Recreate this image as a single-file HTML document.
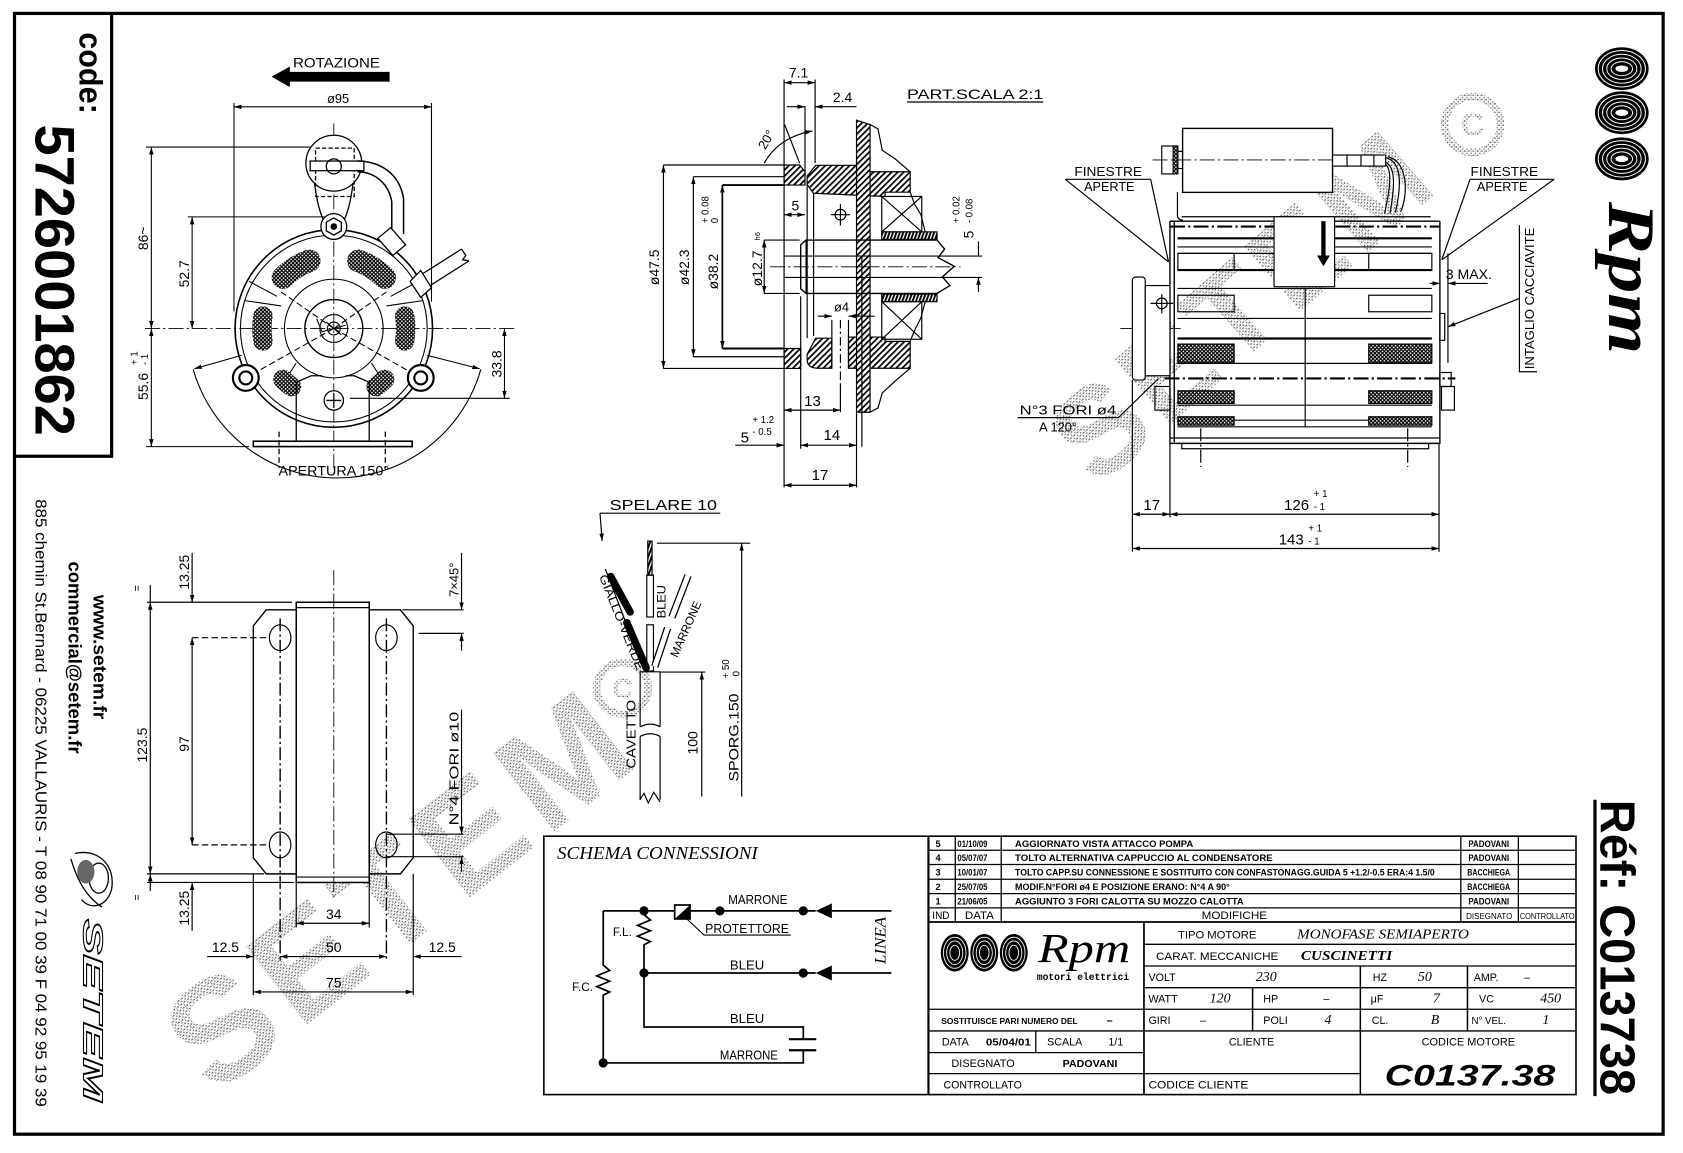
<!DOCTYPE html>
<html><head><meta charset="utf-8">
<style>
html,body{margin:0;padding:0;background:#fff;width:1683px;height:1153px;overflow:hidden}
svg{display:block}
</style></head><body>
<svg xmlns="http://www.w3.org/2000/svg" width="1683" height="1153" viewBox="0 0 1568 1074" preserveAspectRatio="none" font-family="'Liberation Sans', sans-serif">
<defs>
<marker id="a" viewBox="0 0 10 6" refX="10" refY="3" markerWidth="7" markerHeight="4.2" markerUnits="userSpaceOnUse" orient="auto-start-reverse"><path d="M0,0L10,3L0,6z" fill="#000"/></marker>
<pattern id="xh" width="3.5" height="3.5" patternUnits="userSpaceOnUse"><rect width="3.5" height="3.5" fill="#fff"/><path d="M0,0L3.5,3.5M3.5,0L0,3.5" stroke="#000" stroke-width="1.1"/></pattern>
<pattern id="ht" width="4" height="4" patternUnits="userSpaceOnUse" patternTransform="rotate(45)"><rect width="4" height="4" fill="#fff"/><rect width="1.6" height="4" fill="#000"/></pattern>
<pattern id="th" width="3" height="6" patternUnits="userSpaceOnUse" patternTransform="rotate(20)"><rect width="3" height="6" fill="#fff"/><rect width="1.8" height="6" fill="#000"/></pattern>
<pattern id="st" width="4" height="4" patternUnits="userSpaceOnUse"><rect x="0" y="0" width="1.4" height="1.4" fill="#666"/><rect x="2" y="2.2" width="1.3" height="1.3" fill="#777"/><rect x="2.6" y="0.4" width="0.9" height="0.9" fill="#888"/></pattern>
</defs>
<rect width="1568" height="1074" fill="#fff"/>

<!-- WATERMARKS -->
<g fill="url(#st)" font-weight="bold">
<text transform="translate(200,1022) rotate(-38)" font-size="135" letter-spacing="10">SETEM</text>
<text transform="translate(1022,455) rotate(-41)" font-size="116" letter-spacing="6">SETEM</text>
</g>
<g fill="none" stroke="url(#st)" stroke-width="7">
<circle cx="580" cy="641" r="24"/>
<circle cx="1372" cy="116" r="26"/>
</g>
<g fill="url(#st)" font-weight="bold" text-anchor="middle">
<text x="580" y="650" font-size="26">C</text>
<text x="1372" y="126" font-size="30">C</text>
</g>

<!-- BORDER & CODE BOX -->
<g fill="none" stroke="#000" stroke-width="3">
<rect x="13.5" y="12.5" width="1536" height="1044"/>
<path d="M104,12V425H13"/>
<path d="M1486,745V1021"/>
</g>
<g font-weight="bold" fill="#000">
<text transform="translate(74,30) rotate(90)" font-size="30" textLength="76" lengthAdjust="spacingAndGlyphs">code:</text>
<text transform="translate(33,116) rotate(90)" font-size="52" textLength="290" lengthAdjust="spacingAndGlyphs">5726001862</text>
<text transform="translate(87,554) rotate(90)" font-size="17" textLength="116" lengthAdjust="spacingAndGlyphs">www.setem.fr</text>
<text transform="translate(64,523) rotate(90)" font-size="17" textLength="179" lengthAdjust="spacingAndGlyphs">commercial@setem.fr</text>
<text transform="translate(1491,745) rotate(90)" font-size="46" textLength="275" lengthAdjust="spacingAndGlyphs">Réf:  C013738</text>
</g>
<text transform="translate(33,465) rotate(90)" font-size="15" textLength="566" lengthAdjust="spacingAndGlyphs" fill="#000">885 chemin St.Bernard  -  06225 VALLAURIS  -  T 08 90 71 00 39   F 04 92 95 19 39</text>
<!-- setem logo -->
<g fill="none" stroke="#000" stroke-width="1.2">
<path d="M70,795 C90,790 108,805 104,828 C100,845 84,848 76,838"/>
<path d="M66,800 C72,820 80,835 95,845"/>
<ellipse cx="92" cy="818" rx="9" ry="14"/>
</g>
<ellipse cx="80" cy="812" rx="8" ry="11" fill="#666"/>
<text transform="translate(78,856) rotate(90)" font-size="26" font-style="italic" font-weight="bold" fill="#fff" stroke="#000" stroke-width="1" textLength="170" lengthAdjust="spacingAndGlyphs">SETEM</text>

<!-- RPM LOGO TOP RIGHT -->
<g>
<ellipse cx="1511" cy="64" rx="25" ry="20" fill="#000"/>
<ellipse cx="1511" cy="105" rx="25" ry="20" fill="#000"/>
<ellipse cx="1511" cy="148" rx="25" ry="20" fill="#000"/>
<g fill="none" stroke="#fff" stroke-width="0.9">
<ellipse cx="1511" cy="64" rx="22" ry="17"/><ellipse cx="1511" cy="64" rx="18" ry="13.5"/><ellipse cx="1511" cy="64" rx="14" ry="10"/><ellipse cx="1511" cy="64" rx="10" ry="6.5"/>
<ellipse cx="1511" cy="105" rx="22" ry="17"/><ellipse cx="1511" cy="105" rx="18" ry="13.5"/><ellipse cx="1511" cy="105" rx="14" ry="10"/><ellipse cx="1511" cy="105" rx="10" ry="6.5"/>
<ellipse cx="1511" cy="148" rx="22" ry="17"/><ellipse cx="1511" cy="148" rx="18" ry="13.5"/><ellipse cx="1511" cy="148" rx="14" ry="10"/><ellipse cx="1511" cy="148" rx="10" ry="6.5"/>
</g>
<ellipse cx="1511" cy="64" rx="6" ry="3" fill="#fff"/>
<ellipse cx="1511" cy="105" rx="6" ry="3" fill="#fff"/>
<ellipse cx="1511" cy="148" rx="6" ry="3" fill="#fff"/>
</g>
<text transform="translate(1499,188) rotate(90)" font-family="'Liberation Serif', serif" font-style="italic" font-weight="bold" font-size="62" textLength="142" lengthAdjust="spacingAndGlyphs" fill="#000">Rpm</text>

<!-- FRONT VIEW -->
<g fill="none" stroke="#000" stroke-width="1">
<path d="M311,115V436" stroke-dasharray="14 3 2 3" stroke-width="0.8"/>
<path d="M135,306H482" stroke-dasharray="14 3 2 3" stroke-width="0.8"/>
<path d="M218,99.5H402" marker-start="url(#a)" marker-end="url(#a)"/>
<path d="M218,96V290M402,96V281"/>
<path d="M141,137V306" marker-start="url(#a)" marker-end="url(#a)"/>
<path d="M136,137H300"/>
<path d="M179,202V306" marker-start="url(#a)" marker-end="url(#a)"/>
<path d="M175,202H306"/>
<path d="M141,306V416" marker-start="url(#a)" marker-end="url(#a)"/>
<path d="M136,416H232"/>
<path d="M470,306V371" marker-start="url(#a)" marker-end="url(#a)"/>
<path d="M326,371H475"/>
<path d="M180,344 A139.3,139.3 0 0 0 448,344"/>
<path d="M225,331L181,343.5" marker-end="url(#a)"/>
<path d="M398,331L447,343.5" marker-end="url(#a)"/>
<circle cx="311" cy="306" r="92" stroke-width="1.5"/>
<circle cx="311" cy="306" r="87"/>
<circle cx="311" cy="306" r="46"/>
<circle cx="311" cy="306" r="27" stroke-width="1.3"/>
<circle cx="311" cy="306" r="13"/>
<circle cx="311" cy="306" r="6"/>
<path d="M311,306L229,352M311,306L392,352M311,306L262,272M311,306L360,272" stroke-dasharray="6 3"/>
<path d="M295,297L300,309L322,303M304,300L318,312"/>
<path d="M258,276L232,262M262,285L228,280M364,276L390,262M360,285L394,280M276,338L262,360M346,338L360,360"/>
</g>
<g fill="none" stroke="url(#xh)" stroke-width="21" stroke-linecap="round">
<path d="M263.6,258.6 A67,67 0 0 1 288.1,243"/>
<path d="M333.9,243 A67,67 0 0 1 358.4,258.6"/>
<path d="M245,317.6 A67,67 0 0 1 245,294.4" stroke-width="18"/>
<path d="M377,294.4 A67,67 0 0 1 377,317.6" stroke-width="18"/>
<path d="M271.6,360.2 A67,67 0 0 1 263.6,353.4" stroke-width="18"/>
<path d="M358.4,353.4 A67,67 0 0 1 350.4,360.2" stroke-width="18"/>
</g>
<g fill="#fff" stroke="#000" stroke-width="1.2">
<path d="M293,170 Q296,195 302,206 M329,170 Q326,195 320,206" fill="none"/>
<circle cx="311" cy="152" r="26"/>
<rect x="294" y="138" width="36" height="45" fill="none" stroke-dasharray="4 2"/>
<rect x="289" y="150" width="50" height="9"/>
<circle cx="311" cy="155" r="7" fill="none"/>
<circle cx="311" cy="211" r="12"/>
<path d="M311,203L318,207L318,215L311,219L304,215L304,207Z"/>
<circle cx="311" cy="211" r="2.5" fill="#000"/>
<path d="M333,150 C352,150 372,160 376,185 L376,218 M333,160 C348,160 362,170 365,188 L365,222" fill="none" stroke-width="1.4"/>
<path d="M352,222L364,212L378,228L366,238Z"/>
<path d="M389,258L430,232M396,269L437,243M430,232L434,238L431,242L437,243" fill="none"/>
<path d="M382,262L392,252L402,268L392,277Z"/>
<circle cx="229" cy="352" r="12" stroke-width="2"/>
<circle cx="229" cy="352" r="6" stroke-width="2"/>
<circle cx="392" cy="352" r="12" stroke-width="2"/>
<circle cx="392" cy="352" r="6" stroke-width="2"/>
<circle cx="311" cy="373" r="9"/>
<path d="M311,366V380M304,373H318" fill="none"/>
<path d="M276,356V411M344,356V411M276,356L290,350H300M344,356L330,350H322" fill="none"/>
<rect x="236" y="411" width="148" height="5" stroke-width="1.5"/>
<path d="M260,402V436M359,402V436" fill="none" stroke-dasharray="5 3"/>
</g>
<path d="M253,71.5 L270,62 L270,67 L363,67 L363,76 L270,76 L270,81 Z" fill="#000"/>
<g fill="#000" font-size="13">
<text x="273" y="63" textLength="81" lengthAdjust="spacingAndGlyphs">ROTAZIONE</text>
<text x="315" y="96" text-anchor="middle" font-size="12">ø95</text>
<text transform="translate(138,222) rotate(-90)" text-anchor="middle">86~</text>
<text transform="translate(176,255) rotate(-90)" text-anchor="middle">52.7</text>
<text transform="translate(138,360) rotate(-90)" text-anchor="middle">55.6</text>
<text transform="translate(138,340) rotate(-90)" font-size="9">- 1</text>
<text transform="translate(128,340) rotate(-90)" font-size="9">+ 1</text>
<text transform="translate(467,339) rotate(-90)" text-anchor="middle">33.8</text>
<text x="311" y="443" text-anchor="middle" textLength="103" lengthAdjust="spacingAndGlyphs">APERTURA 150°</text>
</g>

<!-- BASE VIEW -->
<g fill="none" stroke="#000" stroke-width="1.1">
<path d="M248,568H373L385,583V799L373,814H248L236,799V583Z" stroke-width="1.3"/>
<rect x="276" y="561" width="68" height="261" fill="#fff" stroke-width="1.4"/>
<path d="M276,566H344M276,817H344"/>
<ellipse cx="261" cy="594" rx="10" ry="12"/><ellipse cx="360" cy="594" rx="10" ry="12"/>
<ellipse cx="261" cy="787" rx="10" ry="12"/><ellipse cx="360" cy="787" rx="10" ry="12"/>
<path d="M261,576V893M360,576V893" stroke-dasharray="12 3 2 3" stroke-width="1.3"/>
<path d="M311,531V836" stroke-dasharray="14 3 2 3" stroke-width="0.8"/>
<path d="M137,561H272M137,814H246M137,822H274"/>
<path d="M179,594H250M179,787H250" stroke-dasharray="6 3"/>
<path d="M140,561V814" marker-start="url(#a)" marker-end="url(#a)"/>
<path d="M140,545V561M140,830V814" marker-end="url(#a)"/>
<path d="M179,594V787" marker-start="url(#a)" marker-end="url(#a)"/>
<path d="M179,515V561" marker-end="url(#a)"/>
<path d="M179,867V822" marker-end="url(#a)"/>
<path d="M375,568H432M390,590H432"/>
<path d="M430,515V568" marker-end="url(#a)"/>
<path d="M430,606V590" marker-end="url(#a)"/>
<path d="M360,777H432M360,798H432"/>
<path d="M430,661V777" marker-end="url(#a)"/>
<path d="M430,812V798" marker-end="url(#a)"/>
<path d="M276,822V864M344,822V864M236,814V927M385,814V927M261,893V895"/>
<path d="M276,860H344" marker-start="url(#a)" marker-end="url(#a)"/>
<path d="M193,891H236" marker-end="url(#a)"/>
<path d="M261,891H360" marker-start="url(#a)" marker-end="url(#a)"/>
<path d="M430,891H385" marker-end="url(#a)"/>
<path d="M236,924H385" marker-start="url(#a)" marker-end="url(#a)"/>
</g>
<g fill="#000" font-size="13">
<text transform="translate(137,694) rotate(-90)" text-anchor="middle">123.5</text>
<text transform="translate(176,693) rotate(-90)" text-anchor="middle">97</text>
<text transform="translate(176,533) rotate(-90)" text-anchor="middle">13.25</text>
<text transform="translate(176,846) rotate(-90)" text-anchor="middle">13.25</text>
<text transform="translate(131,548) rotate(-90)" text-anchor="middle" font-size="10">=</text>
<text transform="translate(131,836) rotate(-90)" text-anchor="middle" font-size="10">=</text>
<text transform="translate(427,540) rotate(-90)" text-anchor="middle" font-size="12">7×45°</text>
<text transform="translate(427,716) rotate(-90)" text-anchor="middle" font-size="12" textLength="106" lengthAdjust="spacingAndGlyphs">N°4 FORI ø10</text>
<text x="311" y="856" text-anchor="middle">34</text>
<text x="210" y="887" text-anchor="middle">12.5</text>
<text x="311" y="887" text-anchor="middle">50</text>
<text x="412" y="887" text-anchor="middle">12.5</text>
<text x="311" y="920" text-anchor="middle">75</text>
</g>

<!-- SECTION VIEW -->
<g stroke="#000" stroke-width="1.1">
<path d="M730.5,153.7H745L750,160V172.4H730.5Z" fill="url(#ht)"/>
<path d="M730.5,324.6H746V343.2H730.5Z" fill="url(#ht)"/>
<path d="M752,164L760,154H798V160H848V179H824.6V183L758,180L752,172Z" fill="url(#ht)"/>
<path d="M752,330L760,315H775V343H762Q752,343 752,335Z" fill="url(#ht)"/>
<path d="M790.5,314H824.6V318H848V343H790.5Z" fill="url(#ht)"/>
<path d="M798,112L810.6,116V384H798Z" fill="url(#ht)"/>
<rect x="821.5" y="216" width="51.5" height="7" fill="url(#th)"/>
<rect x="821.5" y="274" width="51.5" height="7" fill="url(#th)"/>
</g>
<g fill="none" stroke="#000" stroke-width="1.1">
<path d="M810.6,116L818,120L822,140L834,148L848,160"/>
<path d="M848,343L834,355L822,366L818,380L810.6,384"/>
<path d="M848,179L852,190L858,200L862,216M848,318L852,308L858,296L862,281"/>
<rect x="821.5" y="183" width="37.3" height="33"/><path d="M821.5,183L858.8,216M858.8,183L821.5,216"/>
<rect x="821.5" y="281" width="37.3" height="35"/><path d="M821.5,281L858.8,316M858.8,281L821.5,316"/>
<path d="M751,223.6H873L880,232L874,240L889,248L878,258L885,266L873,273.3H751L746,269V228Z" stroke-width="1.3"/>
<path d="M730,238.5H915M730,258.4H915"/>
<path d="M751,223.6V273.3M752,172V315M758,180V313"/>
<path d="M717.5,248.5H895" stroke-dasharray="14 3 2 3" stroke-width="0.8"/>
<path d="M730.5,74V454M759.4,74V152M750,99V163M746,276V418M803,238V416M798,384V454"/>
<path d="M730.5,77H759.4" marker-start="url(#a)" marker-end="url(#a)"/>
<path d="M733,99.4H750" marker-end="url(#a)"/>
<path d="M798,99.4H759.4" marker-end="url(#a)"/>
<path d="M712,152Q725,128 757,122" marker-end="url(#a)"/>
<path d="M731,116L745,152"/>
<path d="M618,153.7H730M618,343.2H730M646,164.6H730M646,332.3H730"/>
<path d="M673,172.4H730M673,324.6H730" stroke-width="1.8"/>
<path d="M712,223.6H745M712,273.3H745"/>
<path d="M618.1,153.7V343.2" marker-start="url(#a)" marker-end="url(#a)"/>
<path d="M646,164.6V332.3" marker-start="url(#a)" marker-end="url(#a)"/>
<path d="M673,172.4V324.6" marker-start="url(#a)" marker-end="url(#a)" stroke-width="1.6"/>
<path d="M712,223.6V273.3" marker-start="url(#a)" marker-end="url(#a)"/>
<path d="M730.5,200H750" marker-start="url(#a)" marker-end="url(#a)"/>
<circle cx="783" cy="200" r="5"/><path d="M783,190V210M774,200H792"/>
<path d="M762,294.5H775" marker-end="url(#a)"/>
<path d="M815,294.5H790.5" marker-end="url(#a)"/>
<path d="M775,298V343M790.5,298V343"/>
<path d="M783,298V358" stroke-dasharray="8 3 2 3"/>
<path d="M730.5,382H783" marker-start="url(#a)" marker-end="url(#a)"/>
<path d="M783,358V384"/>
<path d="M746,414.7H798" marker-start="url(#a)" marker-end="url(#a)"/>
<path d="M685,414.7H730.5" marker-end="url(#a)"/>
<path d="M730.5,452H798" marker-start="url(#a)" marker-end="url(#a)"/>
<path d="M911.6,225V238.5M911.6,272V258.4" marker-end="url(#a)"/>
<path d="M845,95H972"/>
</g>
<g fill="#000" font-size="13">
<text x="744" y="72" text-anchor="middle">7.1</text>
<text x="785" y="95" text-anchor="middle">2.4</text>
<text x="845" y="92" textLength="127" lengthAdjust="spacingAndGlyphs">PART.SCALA 2:1</text>
<text transform="translate(713,140) rotate(-60)" font-size="12">20°</text>
<text transform="translate(614,249) rotate(-90)" text-anchor="middle">ø47.5</text>
<text transform="translate(642,249) rotate(-90)" text-anchor="middle">ø42.3</text>
<text transform="translate(669,253) rotate(-90)" text-anchor="middle">ø38.2</text>
<text transform="translate(660,208) rotate(-90)" font-size="9">+ 0.08</text>
<text transform="translate(669,208) rotate(-90)" font-size="9">0</text>
<text transform="translate(710,250) rotate(-90)" text-anchor="middle">ø12.7</text>
<text transform="translate(708,224) rotate(-90)" font-size="7">h6</text>
<text x="741" y="196" text-anchor="middle">5</text>
<text x="784" y="290" text-anchor="middle" font-size="12">ø4</text>
<text x="757" y="378" text-anchor="middle" font-size="14">13</text>
<text x="775" y="410" text-anchor="middle" font-size="14">14</text>
<text x="764" y="447" text-anchor="middle" font-size="14">17</text>
<text x="690" y="412" font-size="14">5</text>
<text x="701" y="394" font-size="9">+ 1.2</text>
<text x="701" y="405" font-size="9">- 0.5</text>
<text transform="translate(907,222) rotate(-90)">5</text>
<text transform="translate(906,208) rotate(-90)" font-size="9">- 0.08</text>
<text transform="translate(894,208) rotate(-90)" font-size="9">+ 0.02</text>
</g>

<!-- SPELARE -->
<g fill="none" stroke="#000" stroke-width="1.1">
<path d="M559,478H671"/>
<path d="M559,478L561,504" marker-end="url(#a)"/>
<path d="M596.4,677V625.8H615V677M596.4,686V745M615,686V745"/>
<path d="M596.4,677Q606,672 615,677M596.4,686Q606,681 615,686"/>
<path d="M596,745L600,739L604,748L609,738L615,747"/>
<rect x="602.6" y="535.7" width="6.2" height="39" fill="#fff"/>
<rect x="602.6" y="582" width="6.2" height="43" fill="#fff"/>
<rect x="603.5" y="504" width="4" height="31.7" fill="url(#th)"/>
<path d="M564,530L600,624"/>
<path d="M569,537L587,570M584,580L602,622" stroke-width="7" stroke-linecap="round"/>
<path d="M641,536L626,575M622,585L610,621" stroke-width="7"/>
<path d="M641,536L626,575M622,585L610,621" stroke-width="4.6" stroke="#fff"/>
<path d="M615,626H657M612,506H699"/>
<path d="M653.8,742V626" marker-end="url(#a)"/>
<path d="M691,742V506" marker-end="url(#a)"/>
</g>
<g fill="#000" font-size="11">
<text x="568" y="475" font-size="14" textLength="100" lengthAdjust="spacingAndGlyphs">SPELARE 10</text>
<text transform="translate(558,537) rotate(68)" textLength="95" lengthAdjust="spacingAndGlyphs">GIALLO-VERDE</text>
<text transform="translate(620,576) rotate(-90)" textLength="31" lengthAdjust="spacingAndGlyphs">BLEU</text>
<text transform="translate(631,613) rotate(-66)" textLength="56" lengthAdjust="spacingAndGlyphs">MARRONE</text>
<text transform="translate(592,716) rotate(-90)" font-size="12" textLength="64" lengthAdjust="spacingAndGlyphs">CAVETTO</text>
<text transform="translate(650,692) rotate(-90)" text-anchor="middle" font-size="13">100</text>
<text transform="translate(688,728) rotate(-90)" font-size="13" textLength="82" lengthAdjust="spacingAndGlyphs">SPORG.150</text>
<text transform="translate(679,632) rotate(-90)" font-size="9">+ 50</text>
<text transform="translate(689,630) rotate(-90)" font-size="9">0</text>
</g>

<!-- RIGHT SIDE VIEW -->
<g fill="none" stroke="#000" stroke-width="1.1">
<rect x="1101.8" y="119.6" width="139.7" height="59.6" fill="#fff" stroke-width="1.3"/>
<rect x="1082.4" y="136" width="15" height="26" fill="#fff"/>
<rect x="1093" y="136" width="4.4" height="26" fill="url(#xh)"/>
<path d="M1097.4,141H1101.8M1097.4,157H1101.8"/>
<path d="M1073.8,149H1293" stroke-dasharray="14 3 2 3" stroke-width="0.8"/>
<rect x="1241.5" y="144.4" width="49.5" height="10.3" fill="#fff"/>
<path d="M1255,144.4V154.7M1268,144.4V154.7M1280,144.4V154.7"/>
<path d="M1291,147C1306,150 1306,172 1300,198M1291,151C1301,156 1299,176 1295,199M1291,153C1298,160 1294,180 1290,199M1293,146C1312,150 1312,182 1305,197"/>
<path d="M1097,179V200Q1097,205 1102,205"/>
<path d="M1090,206V413H1341.5V206M1094,206V412M1090,206H1341.5" stroke-width="1.3"/>
<path d="M1101,201.9H1333"/>
<path d="M1090,211H1341.5" stroke-width="2" stroke-dasharray="14 3 2 3"/>
<path d="M1097,222H1334" stroke-width="2"/>
<path d="M1097,230H1334M1097,236H1334M1097,268.7H1334M1097,296.6H1334M1097,338.5H1334M1097,377.4H1334M1097,391.4H1334M1097,397.6H1334M1090,408H1341"/>
<path d="M1097,251.6H1334M1097,315.3H1334" stroke-width="2"/>
<path d="M1043.8,306H1100" stroke-dasharray="14 3 2 3" stroke-width="0.8"/>
<path d="M1085,352.5H1356" stroke-width="2" stroke-dasharray="14 3 2 3"/>
<rect x="1097.4" y="236" width="52.4" height="15.6"/><rect x="1275.2" y="236" width="58.8" height="15.6"/>
<rect x="1097.4" y="275" width="52.4" height="15.4"/><rect x="1275.2" y="275" width="58.8" height="15.4"/>
<g fill="url(#xh)">
<rect x="1097.4" y="320.5" width="52.4" height="17.5"/><rect x="1275.2" y="320.5" width="58.8" height="17.5"/>
<rect x="1097.4" y="364" width="52.4" height="11.8"/><rect x="1275.2" y="364" width="58.8" height="11.8"/>
<rect x="1097.4" y="388.2" width="52.4" height="7.8"/><rect x="1275.2" y="388.2" width="58.8" height="7.8"/>
</g>
<path d="M1216,268V398"/>
<rect x="1187" y="201.9" width="56.4" height="65.2" fill="#fff"/>
<path d="M1233,206V238" stroke-width="4"/>
<rect x="1055" y="258" width="12" height="96" rx="3" fill="#fff"/>
<rect x="1067" y="266" width="23" height="84" fill="#fff"/>
<circle cx="1082.4" cy="282.6" r="5"/><path d="M1072,282.6H1093M1082.4,274V292"/>
<rect x="1076" y="360" width="14" height="22"/>
<rect x="1341.5" y="292" width="4.5" height="25"/>
<rect x="1341.5" y="347" width="10.5" height="13"/><rect x="1343" y="360" width="12" height="22"/>
<path d="M1101,413V418H1331V413"/>
<path d="M1118.7,399V435M1311.5,399V435" stroke-dasharray="12 3 2 3"/>
<path d="M1349,236V338"/>
<path d="M1055,354V514M1090,413V482M1340.7,413V514"/>
<path d="M1055,479H1090" marker-start="url(#a)" marker-end="url(#a)"/>
<path d="M1090,479H1340.7" marker-start="url(#a)" marker-end="url(#a)"/>
<path d="M1055,510.9H1340.7" marker-start="url(#a)" marker-end="url(#a)"/>
<path d="M992.5,167H1072M992.5,167L1088.7,244M1072,167L1088.7,244"/>
<path d="M1369.6,167H1448M1369.6,167L1343.3,242M1448,167L1343.3,242"/>
<path d="M1332,264H1341.5" marker-end="url(#a)"/>
<path d="M1386,264H1349" marker-end="url(#a)"/>
<path d="M1415.6,209.7V346.3H1432"/>
<path d="M1415.6,278L1349,304.4" marker-end="url(#a)"/>
<path d="M948,389H1042L1079.4,352.5"/>
</g>
<path d="M1227,238H1239L1233,248Z" fill="#000"/>
<g fill="#000" font-size="12">
<text x="1001" y="164" textLength="63" lengthAdjust="spacingAndGlyphs">FINESTRE</text>
<text x="1010" y="178" textLength="47" lengthAdjust="spacingAndGlyphs">APERTE</text>
<text x="1370" y="164" textLength="63" lengthAdjust="spacingAndGlyphs">FINESTRE</text>
<text x="1376" y="178" textLength="47" lengthAdjust="spacingAndGlyphs">APERTE</text>
<text x="1347" y="260" font-size="13" textLength="43" lengthAdjust="spacingAndGlyphs">3 MAX.</text>
<text transform="translate(1429,278) rotate(-90)" text-anchor="middle" textLength="132" lengthAdjust="spacingAndGlyphs">INTAGLIO CACCIAVITE</text>
<text x="950" y="386" textLength="90" lengthAdjust="spacingAndGlyphs">N°3 FORI ø4</text>
<text x="968" y="402">A 120°</text>
<text x="1073" y="475" text-anchor="middle" font-size="14">17</text>
<text x="1208" y="475" text-anchor="middle" font-size="14">126</text>
<text x="1224" y="475" font-size="9">- 1</text>
<text x="1224" y="463" font-size="9">+ 1</text>
<text x="1203" y="507" text-anchor="middle" font-size="14">143</text>
<text x="1219" y="507" font-size="9">- 1</text>
<text x="1219" y="495" font-size="9">+ 1</text>
</g>

<!-- SCHEMA + TITLE BLOCK -->
<g fill="none" stroke="#000" stroke-width="1.5">
<rect x="506.7" y="778.9" width="961.6" height="240.7"/>
<path d="M865,778.9V1019.6" stroke-width="2"/>
</g>
<g fill="none" stroke="#000" stroke-width="1.6">
<path d="M600,848.5H760M775,848.5H830.5"/>
<path d="M600,906.3H760M775,906.3H830.5"/>
<path d="M562,848.5H600V852L606,857L594,862L606,867L594,872L606,877L600,880V956.6H748.4V968"/>
<path d="M562,848.5V899L568,904L556,909L568,914L556,919L568,924L562,927V990.1H748.4V978.3"/>
<path d="M735,968H760.5M735,978.3H760.5" stroke-width="2"/>
<rect x="628.6" y="843" width="14.3" height="13" fill="#fff"/>
<path d="M640,856L656,871H736.7" stroke-width="1"/>
</g>
<g fill="#000">
<path d="M642.9,843V856H628.6Z"/>
<path d="M760,848.5L775,841.5V855.5Z"/><path d="M760,906.3L775,899.3V913.3Z"/>
<circle cx="600" cy="848.5" r="4.3"/><circle cx="670.7" cy="848.5" r="4.3"/><circle cx="748.4" cy="848.5" r="4.3"/>
<circle cx="600" cy="906.3" r="4.3"/><circle cx="748.4" cy="906.3" r="4.3"/>
<circle cx="562" cy="990.1" r="4.3"/>
</g>
<g fill="#000" font-size="12">
<text x="519" y="800" font-family="'Liberation Serif', serif" font-style="italic" font-size="17" textLength="187" lengthAdjust="spacingAndGlyphs">SCHEMA CONNESSIONI</text>
<text x="678.5" y="842" textLength="55" lengthAdjust="spacingAndGlyphs">MARRONE</text>
<text x="657" y="869" textLength="78" lengthAdjust="spacingAndGlyphs">PROTETTORE</text>
<text x="680" y="903" textLength="32" lengthAdjust="spacingAndGlyphs">BLEU</text>
<text x="680" y="953" textLength="32" lengthAdjust="spacingAndGlyphs">BLEU</text>
<text x="670.7" y="987" textLength="54" lengthAdjust="spacingAndGlyphs">MARRONE</text>
<text x="571" y="872" font-size="11">F.L.</text>
<text x="533" y="923" font-size="11">F.C.</text>
<text transform="translate(825,876) rotate(-90)" text-anchor="middle" font-family="'Liberation Serif', serif" font-style="italic" font-size="15" textLength="44" lengthAdjust="spacingAndGlyphs">LINEA</text>
</g>

<g fill="none" stroke="#000" stroke-width="1.2">
<path d="M865,792H1468.3M865,805.3H1468.3M865,819H1468.3M865,832.4H1468.3M865,845.7H1468.3"/>
<path d="M865,858.8H1468.3" stroke-width="1.6"/>
<path d="M890,778.9V858.8M932.8,778.9V858.8M1361,778.9V858.8M1414.6,778.9V858.8"/>
<path d="M1065.8,858.8V1019.6" stroke-width="1.6"/>
<path d="M1065.8,879.6H1468.3M1065.8,899.8H1468.3M1065.8,920H1468.3M1065.8,940.1H1468.3M1065.8,960.3H1468.3M1065.8,1000.1H1267.4"/>
<path d="M1267.4,899.8V1019.6M1367.2,899.8V960.3M1167,920V960.3" stroke-width="1.4"/>
<path d="M865,940.1H1065.8M865,960.3H1065.8M865,980.5H1065.8M865,1000.1H1065.8"/>
<path d="M965,960.3V980.5"/>
</g>
<g>
<ellipse cx="889.5" cy="887.5" rx="13" ry="17.5" fill="#000"/>
<ellipse cx="917" cy="887.5" rx="13" ry="17.5" fill="#000"/>
<ellipse cx="944.5" cy="887.5" rx="13" ry="17.5" fill="#000"/>
<g fill="none" stroke="#fff" stroke-width="0.8">
<ellipse cx="889.5" cy="887.5" rx="10.5" ry="14.5"/><ellipse cx="889.5" cy="887.5" rx="7.5" ry="11"/><ellipse cx="889.5" cy="887.5" rx="4.5" ry="7"/>
<ellipse cx="917" cy="887.5" rx="10.5" ry="14.5"/><ellipse cx="917" cy="887.5" rx="7.5" ry="11"/><ellipse cx="917" cy="887.5" rx="4.5" ry="7"/>
<ellipse cx="944.5" cy="887.5" rx="10.5" ry="14.5"/><ellipse cx="944.5" cy="887.5" rx="7.5" ry="11"/><ellipse cx="944.5" cy="887.5" rx="4.5" ry="7"/>
</g>
</g>
<g fill="#000" font-size="8.5" font-weight="bold">
<text x="874" y="789" text-anchor="middle">5</text>
<text x="874" y="802" text-anchor="middle">4</text>
<text x="874" y="815.5" text-anchor="middle">3</text>
<text x="874" y="829" text-anchor="middle">2</text>
<text x="874" y="842.5" text-anchor="middle">1</text>
<text x="892" y="789" textLength="28" lengthAdjust="spacingAndGlyphs">01/10/09</text>
<text x="892" y="802" textLength="28" lengthAdjust="spacingAndGlyphs">05/07/07</text>
<text x="892" y="815.5" textLength="28" lengthAdjust="spacingAndGlyphs">10/01/07</text>
<text x="892" y="829" textLength="28" lengthAdjust="spacingAndGlyphs">25/07/05</text>
<text x="892" y="842.5" textLength="28" lengthAdjust="spacingAndGlyphs">21/06/05</text>
<text x="945.7" y="789" textLength="166" lengthAdjust="spacingAndGlyphs">AGGIORNATO VISTA ATTACCO POMPA</text>
<text x="945.7" y="802" textLength="240" lengthAdjust="spacingAndGlyphs">TOLTO ALTERNATIVA CAPPUCCIO AL CONDENSATORE</text>
<text x="945.7" y="815.5" textLength="391" lengthAdjust="spacingAndGlyphs">TOLTO CAPP.SU CONNESSIONE E SOSTITUITO CON CONFASTONAGG.GUIDA 5 +1.2/-0.5 ERA:4 1.5/0</text>
<text x="945.7" y="829" textLength="200" lengthAdjust="spacingAndGlyphs">MODIF.N°FORI ø4 E POSIZIONE ERANO: N°4 A 90°</text>
<text x="945.7" y="842.5" textLength="213" lengthAdjust="spacingAndGlyphs">AGGIUNTO 3 FORI CALOTTA SU MOZZO CALOTTA</text>
<text x="1387" y="789" text-anchor="middle" textLength="38" lengthAdjust="spacingAndGlyphs">PADOVANI</text>
<text x="1387" y="802" text-anchor="middle" textLength="38" lengthAdjust="spacingAndGlyphs">PADOVANI</text>
<text x="1387" y="815.5" text-anchor="middle" textLength="40" lengthAdjust="spacingAndGlyphs">BACCHIEGA</text>
<text x="1387" y="829" text-anchor="middle" textLength="40" lengthAdjust="spacingAndGlyphs">BACCHIEGA</text>
<text x="1387" y="842.5" text-anchor="middle" textLength="38" lengthAdjust="spacingAndGlyphs">PADOVANI</text>
<text x="877" y="954" font-size="8" textLength="127" lengthAdjust="spacingAndGlyphs">SOSTITUISCE PARI NUMERO DEL</text>
<text x="1031" y="954" font-size="10">–</text>
<text x="918.5" y="974" font-size="9" textLength="42" lengthAdjust="spacingAndGlyphs">05/04/01</text>
<text x="990" y="994" font-size="9" textLength="51" lengthAdjust="spacingAndGlyphs">PADOVANI</text>
</g>
<g fill="#000" font-size="10">
<text x="868.6" y="856" textLength="16" lengthAdjust="spacingAndGlyphs">IND</text>
<text x="899" y="856" textLength="27" lengthAdjust="spacingAndGlyphs">DATA</text>
<text x="1150" y="856" text-anchor="middle" textLength="61" lengthAdjust="spacingAndGlyphs">MODIFICHE</text>
<text x="1366" y="856" font-size="8" textLength="43" lengthAdjust="spacingAndGlyphs">DISEGNATO</text>
<text x="1416" y="856" font-size="8" textLength="51" lengthAdjust="spacingAndGlyphs">CONTROLLATO</text>
<text x="967" y="896" font-family="'Liberation Serif', serif" font-style="italic" font-size="38" textLength="86" lengthAdjust="spacingAndGlyphs">Rpm</text>
<text x="966" y="913" font-family="'Liberation Mono', monospace" font-size="9" font-weight="bold" textLength="86" lengthAdjust="spacingAndGlyphs">motori elettrici</text>
<text x="1134" y="874" text-anchor="middle" textLength="73" lengthAdjust="spacingAndGlyphs">TIPO MOTORE</text>
<text x="1208.5" y="874" font-family="'Liberation Serif', serif" font-style="italic" font-size="13" textLength="160" lengthAdjust="spacingAndGlyphs">MONOFASE SEMIAPERTO</text>
<text x="1077" y="894" textLength="114" lengthAdjust="spacingAndGlyphs">CARAT. MECCANICHE</text>
<text x="1212" y="894" font-family="'Liberation Serif', serif" font-style="italic" font-weight="bold" font-size="13" textLength="85" lengthAdjust="spacingAndGlyphs">CUSCINETTI</text>
<text x="1070" y="914">VOLT</text>
<text x="1070" y="934">WATT</text>
<text x="1070" y="954">GIRI</text>
<text x="1177" y="934">HP</text>
<text x="1177" y="954">POLI</text>
<text x="1279" y="914">HZ</text>
<text x="1277" y="934">μF</text>
<text x="1278" y="954">CL.</text>
<text x="1373" y="914">AMP.</text>
<text x="1378" y="934">VC</text>
<text x="1371" y="954" font-size="9">N° VEL.</text>
<text x="1420" y="914">–</text>
<text x="1118" y="954">–</text>
<text x="1233" y="934">–</text>
<text x="1166" y="974" text-anchor="middle">CLIENTE</text>
<text x="1368" y="974" text-anchor="middle" textLength="87" lengthAdjust="spacingAndGlyphs">CODICE MOTORE</text>
<text x="1070" y="1014" textLength="93" lengthAdjust="spacingAndGlyphs">CODICE CLIENTE</text>
<text x="877.5" y="974">DATA</text>
<text x="975.6" y="974">SCALA</text>
<text x="1032.6" y="974">1/1</text>
<text x="886.4" y="994" textLength="59" lengthAdjust="spacingAndGlyphs">DISEGNATO</text>
<text x="879" y="1014" textLength="73" lengthAdjust="spacingAndGlyphs">CONTROLLATO</text>
</g>
<g fill="#000" font-family="'Liberation Serif', serif" font-style="italic" font-size="13">
<text x="1170" y="914">230</text>
<text x="1321" y="914">50</text>
<text x="1127" y="934">120</text>
<text x="1335" y="934">7</text>
<text x="1435" y="934">450</text>
<text x="1234" y="954">4</text>
<text x="1333" y="954">B</text>
<text x="1437" y="954">1</text>
</g>
<text x="1290" y="1011" font-size="28" font-weight="bold" font-style="italic" textLength="159" lengthAdjust="spacingAndGlyphs" fill="#000">C0137.38</text>
</svg>
</body></html>
